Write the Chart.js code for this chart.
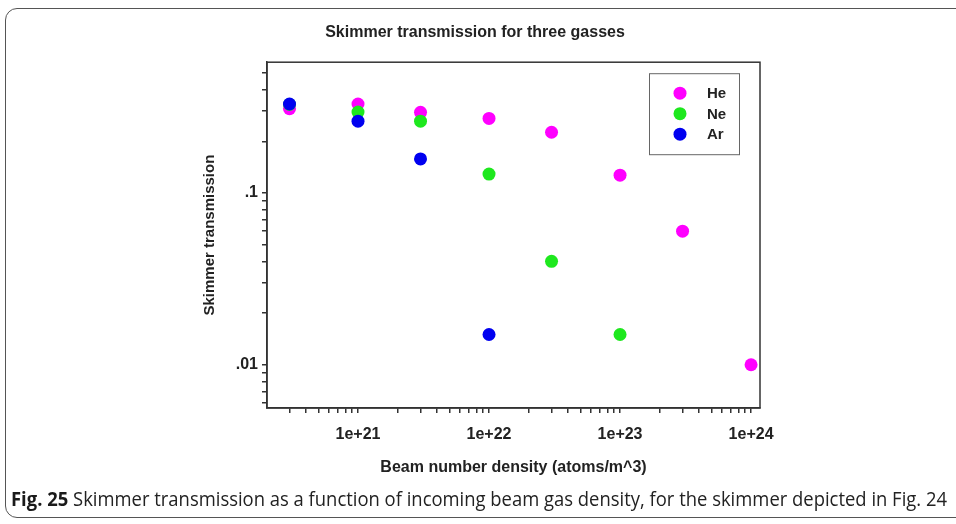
<!DOCTYPE html>
<html>
<head>
<meta charset="utf-8">
<script src="https://cdn.jsdelivr.net/npm/chart.js@4.4.1/dist/chart.umd.min.js"></script>
<style>
  html, body { margin: 0; padding: 0; background: #fff; }
  #wrap { position: relative; width: 956px; height: 524px; overflow: hidden; }
  #frame {
    position: absolute; left: 5px; top: 8px; width: 980px; height: 510px;
    border: 1.5px solid #555; border-radius: 12px; box-sizing: border-box;
  }
  #chart { position: absolute; left: 0; top: 0; }
  #caption {
    position: absolute; left: 11px; top: 485px; white-space: nowrap;
    font-family: "Open Sans", sans-serif; transform-origin: 0 0;
    font-size: 20px; color: #222;
  }
  #caption b { color: #1a1a1a; }
</style>
</head>
<body>
<div id="wrap">
  <div id="frame"></div>
  <canvas id="chart" width="956" height="524"></canvas>
  <div id="caption"><b>Fig. 25</b> Skimmer transmission as a function of incoming beam gas density, for the skimmer depicted in Fig. 24</div>
</div>
<script>
document.addEventListener('DOMContentLoaded', function () {

    // beam number density (atoms/m^3)
    const heDensity = [3e20, 1e21, 3e21, 1e22, 3e22, 1e23, 3e23, 1e24];
    const heTrans   = [0.31, 0.33, 0.295, 0.272, 0.226, 0.127, 0.06, 0.01];

    const neDensity = [3e20, 1e21, 3e21, 1e22, 3e22, 1e23];
    const neTrans   = [0.328, 0.296, 0.262, 0.129, 0.04, 0.015];

    const arDensity = [3e20, 1e21, 3e21, 1e22];
    const arTrans   = [0.33, 0.262, 0.158, 0.015];

    const xTickLabels = ['1e+21', '1e+22', '1e+23', '1e+24'];
    const yTickLabels = ['.01', '.1'];

    const font = 'Liberation Sans, Arial, sans-serif';

    // squeeze caption to the width of the reference line
    const cap = document.getElementById('caption');
    cap.style.transform = 'scaleX(' + (936 / cap.offsetWidth) + ')';

    function pts(xs, ys) {
        return xs.map((x, i) => ({ x: x, y: ys[i] }));
    }

    // 1..9 x 10^n ticks between min and max
    function logTicks(min, max) {
        const out = [];
        for (let e = Math.floor(Math.log10(min)); e <= Math.ceil(Math.log10(max)); e++) {
            for (let m = 1; m < 10; m++) {
                const v = m * Math.pow(10, e);
                if (v >= min && v <= max) out.push({ value: v });
            }
        }
        return out;
    }

    function isDecade(v) {
        const l = Math.log10(v);
        return Math.abs(l - Math.round(l)) < 1e-9;
    }

    const boxPlugin = {
        id: 'box',
        afterDraw(chart) {
            const { ctx, chartArea: a } = chart;
            ctx.save();
            ctx.strokeStyle = '#333';
            ctx.lineWidth = 1.5;
            ctx.strokeRect(a.left, a.top, a.right - a.left, a.bottom - a.top);

            // legend box inside the plot
            const bx = a.right - 111, by = a.top + 11, bw = 90, bh = 81;
            ctx.strokeStyle = '#666';
            ctx.lineWidth = 1;
            ctx.strokeRect(bx + 0.5, by + 0.5, bw, bh);
            ctx.font = 'bold 15px ' + font;
            ctx.textBaseline = 'middle';
            chart.data.datasets.forEach((ds, i) => {
                const y = by + 20 + i * 20.5;
                ctx.beginPath();
                ctx.fillStyle = ds.backgroundColor;
                ctx.arc(bx + 31, y, 6.5, 0, Math.PI * 2);
                ctx.fill();
                ctx.fillStyle = '#222';
                ctx.fillText(ds.label, bx + 58, y + 1);
            });
            ctx.restore();
        }
    };

    const ctx = document.getElementById('chart').getContext('2d');

    new Chart(ctx, {
        type: 'scatter',
        data: {
            datasets: [
                { label: 'He', data: pts(heDensity, heTrans), backgroundColor: '#ff00ff', order: 2 },
                { label: 'Ne', data: pts(neDensity, neTrans), backgroundColor: '#1ee81e', order: 1 },
                { label: 'Ar', data: pts(arDensity, arTrans), backgroundColor: '#0000f0', order: 0 }
            ]
        },
        options: {
            responsive: false,
            animation: false,
            events: [],
            layout: { padding: { left: 190, right: 196, top: 0, bottom: 47 } },
            elements: { point: { radius: 6.5, borderWidth: 0 } },
            plugins: {
                legend: { display: false },
                tooltip: { enabled: false },
                title: {
                    display: true,
                    text: 'Skimmer transmission for three gasses',
                    color: '#222',
                    font: { family: font, size: 16, weight: 'bold', lineHeight: 1.2 },
                    padding: { top: 23, bottom: 20 }
                }
            },
            scales: {
                x: {
                    type: 'logarithmic',
                    min: 2.02e20,
                    max: 1.17e24,
                    afterFit: s => { s.height = 69; },
                    afterBuildTicks: s => { s.ticks = logTicks(s.min, s.max); },
                    grid: { drawOnChartArea: false, drawTicks: true, tickLength: 5, color: '#333', lineWidth: 1.5 },
                    border: { display: true, color: '#333', width: 1.5 },
                    ticks: {
                        autoSkip: false, maxRotation: 0, padding: 12, color: '#222',
                        font: { family: font, size: 16, weight: 'bold' },
                        callback: v => isDecade(v) ? xTickLabels[Math.round(Math.log10(v)) - 21] : ''
                    },
                    title: {
                        display: true,
                        text: 'Beam number density (atoms/m^3)',
                        color: '#222',
                        font: { family: font, size: 16, weight: 'bold' },
                        padding: { top: 0, bottom: 0 }
                    }
                },
                y: {
                    type: 'logarithmic',
                    min: 0.0056,
                    max: 0.578,
                    afterFit: s => { s.width = 77; },
                    afterBuildTicks: s => { s.ticks = logTicks(s.min, s.max); },
                    grid: { drawOnChartArea: false, drawTicks: true, tickLength: 5, color: '#333', lineWidth: 1.5 },
                    border: { display: true, color: '#333', width: 1.5 },
                    ticks: {
                        autoSkip: false, padding: 4, color: '#222',
                        font: { family: font, size: 16, weight: 'bold' },
                        callback: v => isDecade(v) ? yTickLabels[Math.round(Math.log10(v)) + 2] : ''
                    },
                    title: {
                        display: true,
                        text: 'Skimmer transmission',
                        color: '#222',
                        font: { family: font, size: 15, weight: 'bold' },
                        padding: { top: 11, bottom: 0 }
                    }
                }
            }
        },
        plugins: [boxPlugin]
    });
});
</script>
</body>
</html>
